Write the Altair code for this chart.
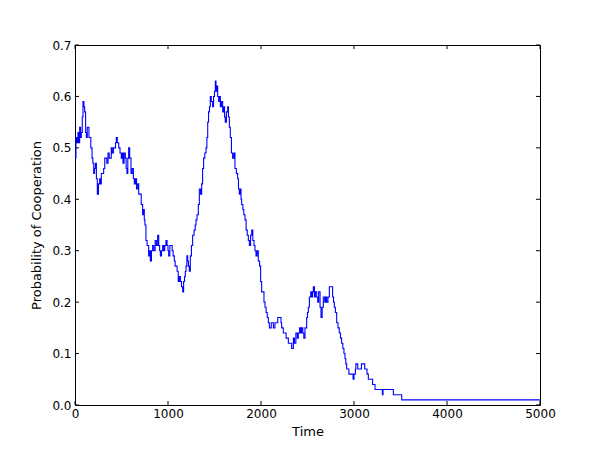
import altair as alt
import pandas as pd

time = [0, 10, 20, 32, 40, 50, 60, 68, 78, 86, 96, 104, 114, 122, 132, 140, 150, 158, 170, 183,
        192, 201, 210, 219, 230, 240, 252, 265, 275, 283, 295, 308, 320, 330, 342, 355, 368, 380, 390, 401,
        414, 427, 436, 444, 455, 470, 484, 498, 508, 516, 528, 541, 550, 559, 568, 577, 588, 602, 615, 628,
        638, 650, 662, 675, 685, 700, 712, 727, 735, 745, 752, 763, 775, 792, 800, 810, 822, 835, 848, 862,
        875, 889, 900, 910, 918, 930, 943, 955, 965, 978, 990, 1000, 1007, 1020, 1032, 1045, 1055, 1068, 1077, 1086,
        1098, 1110, 1122, 1133, 1145, 1158, 1168, 1178, 1186, 1194, 1203, 1211, 1220, 1229, 1240, 1252, 1265, 1280, 1292, 1301,
        1312, 1326, 1337, 1350, 1362, 1372, 1383, 1396, 1409, 1418, 1427, 1436, 1446, 1455, 1465, 1480, 1490, 1500, 1509, 1516,
        1525, 1534, 1545, 1555, 1563, 1575, 1588, 1600, 1608, 1616, 1628, 1642, 1650, 1660, 1670, 1682, 1695, 1708, 1720, 1735,
        1749, 1758, 1767, 1774, 1785, 1792, 1805, 1815, 1828, 1840, 1852, 1864, 1875, 1888, 1900, 1912, 1925, 1935, 1946, 1958,
        1971, 1985, 1996, 2007, 2020, 2032, 2043, 2055, 2067, 2079, 2090, 2110, 2133, 2150, 2170, 2180, 2200, 2215, 2222, 2240,
        2258, 2270, 2285, 2294, 2312, 2330, 2348, 2360, 2375, 2390, 2401, 2415, 2425, 2437, 2450, 2460, 2473, 2491, 2500, 2509,
        2520, 2535, 2545, 2555, 2563, 2575, 2585, 2599, 2610, 2620, 2627, 2635, 2645, 2658, 2670, 2685, 2695, 2706, 2720, 2735,
        2760, 2770, 2780, 2788, 2800, 2814, 2828, 2842, 2855, 2867, 2880, 2892, 2903, 2912, 2921, 2935, 2945, 2957, 2970, 2980,
        2990, 3000, 3015, 3020, 3040, 3065, 3080, 3100, 3115, 3129, 3140, 3154, 3180, 3200, 3226, 3300, 3305, 3312, 3423, 3513,
        5000]
prob = [0.48, 0.52, 0.51, 0.53, 0.51, 0.54, 0.52, 0.53, 0.56, 0.59, 0.58, 0.57, 0.53, 0.52, 0.54, 0.54, 0.52, 0.52, 0.50, 0.48,
        0.47, 0.45, 0.46, 0.47, 0.44, 0.41, 0.43, 0.44, 0.43, 0.45, 0.45, 0.46, 0.48, 0.48, 0.47, 0.49, 0.48, 0.48, 0.50, 0.49,
        0.50, 0.50, 0.51, 0.52, 0.51, 0.50, 0.49, 0.48, 0.49, 0.47, 0.49, 0.48, 0.46, 0.45, 0.48, 0.50, 0.48, 0.45, 0.46, 0.44,
        0.43, 0.44, 0.42, 0.43, 0.41, 0.41, 0.39, 0.37, 0.38, 0.36, 0.35, 0.32, 0.31, 0.29, 0.30, 0.28, 0.30, 0.31, 0.30, 0.32,
        0.31, 0.33, 0.31, 0.30, 0.29, 0.30, 0.31, 0.30, 0.31, 0.32, 0.31, 0.30, 0.29, 0.31, 0.31, 0.30, 0.29, 0.28, 0.27, 0.27,
        0.26, 0.24, 0.25, 0.24, 0.23, 0.22, 0.24, 0.25, 0.26, 0.27, 0.29, 0.28, 0.27, 0.26, 0.29, 0.31, 0.33, 0.34, 0.35, 0.36,
        0.37, 0.39, 0.42, 0.41, 0.43, 0.46, 0.48, 0.49, 0.50, 0.52, 0.55, 0.57, 0.58, 0.60, 0.59, 0.58, 0.60, 0.61, 0.63, 0.61,
        0.62, 0.60, 0.59, 0.60, 0.58, 0.59, 0.57, 0.58, 0.56, 0.55, 0.57, 0.58, 0.56, 0.54, 0.52, 0.49, 0.48, 0.49, 0.46, 0.45,
        0.44, 0.42, 0.41, 0.42, 0.40, 0.39, 0.38, 0.37, 0.36, 0.34, 0.33, 0.32, 0.31, 0.33, 0.34, 0.32, 0.31, 0.30, 0.29, 0.30,
        0.28, 0.27, 0.24, 0.22, 0.22, 0.20, 0.19, 0.18, 0.17, 0.16, 0.15, 0.16, 0.15, 0.16, 0.16, 0.17, 0.17, 0.16, 0.15, 0.14,
        0.14, 0.13, 0.13, 0.12, 0.12, 0.11, 0.13, 0.12, 0.14, 0.13, 0.14, 0.15, 0.14, 0.15, 0.14, 0.13, 0.15, 0.17, 0.18, 0.19,
        0.21, 0.22, 0.21, 0.22, 0.23, 0.21, 0.22, 0.21, 0.20, 0.22, 0.22, 0.19, 0.17, 0.19, 0.21, 0.20, 0.21, 0.20, 0.21, 0.23,
        0.23, 0.21, 0.20, 0.19, 0.18, 0.16, 0.15, 0.14, 0.13, 0.12, 0.11, 0.10, 0.09, 0.08, 0.07, 0.07, 0.06, 0.06, 0.06, 0.06,
        0.05, 0.06, 0.07, 0.08, 0.07, 0.07, 0.08, 0.08, 0.07, 0.07, 0.06, 0.05, 0.05, 0.04, 0.03, 0.03, 0.02, 0.03, 0.02, 0.01,
        0.01]

x_ticks = [0, 1000, 2000, 3000, 4000, 5000]
y_ticks = [0.0, 0.1, 0.2, 0.3, 0.4, 0.5, 0.6, 0.7]

W, H, T = 465, 360, 4

df = pd.DataFrame({"Time": time, "P": prob})
xt = pd.DataFrame({"v": x_ticks})
yt = pd.DataFrame({"v": y_ticks})

xscale = alt.Scale(domain=[0, 5000], nice=False, zero=False)
yscale = alt.Scale(domain=[0, 0.7], nice=False, zero=False)

line = alt.Chart(df).mark_line(color="#0000ff", strokeWidth=1.1, interpolate="step-after").encode(
    x=alt.X("Time:Q", scale=xscale, title="Time",
            axis=alt.Axis(values=x_ticks, format="d", ticks=False, tickSize=0, domain=False, grid=False,
                          labelFlush=False, labelOverlap=False, labelPadding=3, titlePadding=6)),
    y=alt.Y("P:Q", scale=yscale, title="Probability of Cooperation",
            axis=alt.Axis(values=y_ticks, format=".1f", ticks=False, tickSize=0, domain=False, grid=False,
                          labelFlush=False, labelOverlap=False, labelPadding=4, titlePadding=8)),
)

tick_bottom = alt.Chart(xt).mark_rule(color="black", strokeWidth=1).encode(
    x=alt.X("v:Q", scale=xscale), y=alt.value(H), y2=alt.value(H - T))
tick_top = alt.Chart(xt).mark_rule(color="black", strokeWidth=1).encode(
    x=alt.X("v:Q", scale=xscale), y=alt.value(0), y2=alt.value(T))
tick_left = alt.Chart(yt).mark_rule(color="black", strokeWidth=1).encode(
    y=alt.Y("v:Q", scale=yscale), x=alt.value(0), x2=alt.value(T))
tick_right = alt.Chart(yt).mark_rule(color="black", strokeWidth=1).encode(
    y=alt.Y("v:Q", scale=yscale), x=alt.value(W - T), x2=alt.value(W))

chart = alt.layer(line, tick_bottom, tick_top, tick_left, tick_right).properties(
    width=W, height=H,
    autosize=alt.AutoSizeParams(type="none"),
    padding={"left": 67, "top": 37, "right": 52, "bottom": 37},
).configure(font="DejaVu Sans").configure_view(
    stroke="black", strokeWidth=1
).configure_axis(
    labelFont="DejaVu Sans", labelFontSize=12, labelColor="black",
    titleFont="DejaVu Sans", titleFontSize=13, titleFontWeight="normal", titleColor="black",
)

chart.save("out.html", embed_options={"renderer": "svg", "actions": False})
